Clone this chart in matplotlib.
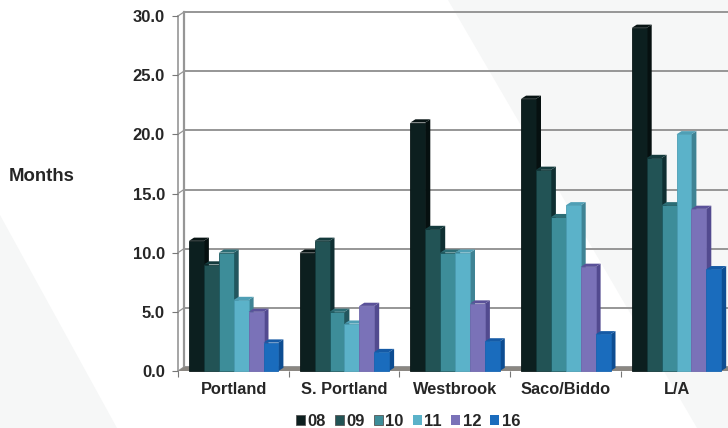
import matplotlib
matplotlib.use("Agg")
import matplotlib.pyplot as plt
from matplotlib.patches import Polygon, Rectangle, Patch

plt.rcParams['font.family'] = ['Liberation Sans', 'DejaVu Sans']

# Months by market and year
markets = ["Portland", "S. Portland", "Westbrook", "Saco/Biddo", "L/A"]
years = ["08", "09", "10", "11", "12", "16"]
y08 = [11, 10, 21, 23, 29]
y09 = [9, 11, 12, 17, 18]
y10 = [10, 5, 10, 13, 14]
y11 = [6, 4, 10, 14, 20]
y12 = [5, 5.5, 5.7, 8.8, 13.7]
y16 = [2.4, 1.6, 2.5, 3.1, 8.6]
series = [y08, y09, y10, y11, y12, y16]
y_ticks = [0, 5, 10, 15, 20, 25, 30]

front = ["#0c1f1f", "#225355", "#3d8d99", "#5bb2c9", "#7a72b8", "#1a6cbd"]
side = ["#061010", "#0f2f32", "#23565e", "#3f8394", "#524a8f", "#0d4d92"]
top = ["#081414", "#143b3d", "#2c6d75", "#4f9fb5", "#5a5199", "#155aa5"]
edges = ["#0a1818", "#12393b", "#1f5c63", "#4d9fb5", "#7068ad", "#1765b2"]
text_color = "#262626"
grid_color = "#969696"

W, H = 728, 428
fig = plt.figure(figsize=(W / 100, H / 100), dpi=100, facecolor="white")

# Faint diagonal panels behind the chart
bg = fig.add_axes([0, 0, 1, 1], zorder=0)
bg.set_xlim(0, W)
bg.set_ylim(H, 0)
bg.axis("off")
panel = "#f6f7f7"
bg.add_patch(Polygon([(448, 0), (W, 0), (W, H), (697, H)], fc=panel, ec="none"))
bg.add_patch(Polygon([(0, 215), (117, H), (0, H)], fc=panel, ec="none"))

# Front plane of the pseudo-3D chart: 110.7 px per market, 11.83 px per month
x0, y0, y30 = 178, 371, 16
group_px = 110.7
ax = fig.add_axes([x0 / W, (H - y0) / H, (W - x0) / W, (y0 - y30) / H], zorder=1)
ax.patch.set_alpha(0)
ax.set_xlim(0, (W - x0) / group_px)
ax.set_ylim(0, 30)
px_x = 1 / group_px
px_y = 30 / (y0 - y30)

wall_dx, wall_dy = 6 * px_x, 4 * px_y
bar_dx, bar_dy = 5 * px_x, 3.2 * px_y
xmax = ax.get_xlim()[1]

# Back wall gridlines, side wall and floor
for v in y_ticks:
    ax.plot([wall_dx, xmax], [v + wall_dy] * 2, color=grid_color, lw=1.4,
            solid_capstyle="butt", clip_on=False, zorder=1)
    ax.plot([0, wall_dx], [v, v + wall_dy], color=grid_color, lw=0.9,
            clip_on=False, zorder=1)
ax.plot([wall_dx, wall_dx], [0 + wall_dy, 30 + wall_dy], color=grid_color, lw=1.6,
        clip_on=False, zorder=1)
ax.plot([0, 0], [0, 30], color=grid_color, lw=1.2, clip_on=False, zorder=1)
ax.add_patch(Polygon([(0, 0), (xmax, 0), (xmax, wall_dy), (wall_dx, wall_dy)],
                     fc="#8b8782", ec="none", zorder=1, clip_on=False))

# Bars are painted left to right so each one covers its neighbour's side face
bar_w = 14.9 * px_x
start = 11 * px_x
for g in range(len(markets)):
    for s, values in enumerate(series):
        v = values[g]
        x = g + start + s * bar_w
        ax.add_patch(Polygon([(x + bar_w, 0), (x + bar_w + bar_dx, bar_dy),
                              (x + bar_w + bar_dx, v + bar_dy), (x + bar_w, v)],
                             fc=side[s], ec="none", zorder=3 + s * 0.01 + g, clip_on=False))
        ax.add_patch(Polygon([(x, v), (x + bar_w, v), (x + bar_w + bar_dx, v + bar_dy),
                              (x + bar_dx, v + bar_dy)],
                             fc=top[s], ec="none", zorder=3 + s * 0.01 + g, clip_on=False))
        ax.add_patch(Rectangle((x, 0), bar_w, v, fc=front[s], ec=edges[s], lw=0.6,
                               zorder=3 + s * 0.01 + g, clip_on=False))

for spine in ax.spines.values():
    spine.set_visible(False)

ax.set_yticks(y_ticks)
ax.set_yticklabels([f"{v:.1f}" for v in y_ticks], fontsize=12, fontweight="bold",
                   color=text_color)
ax.tick_params(axis="y", length=4, width=0.8, color="#777777", pad=5.5)
ax.set_xticks(range(len(markets)))
ax.set_xticklabels([])
ax.tick_params(axis="x", length=4, width=0.8, color="#777777")
for g, name in enumerate(markets):
    ax.text(g + 0.505, -1.6, name, ha="center", va="center", fontsize=11.8,
            fontweight="bold", color=text_color, clip_on=False)

fig.text(9 / W, 1 - 177 / H, "Months", ha="left", va="center", fontsize=13.4,
         fontweight="bold", color=text_color)

handles = [Patch(fc=front[i], ec="#555555" if i < 3 else "none", lw=0.6, label=years[i])
           for i in range(len(years))]
legend = fig.legend(handles=handles, ncol=6, frameon=False, loc="center",
                    bbox_to_anchor=(408 / W, 1 - 421 / H),
                    handlelength=0.54, handleheight=0.54, handletextpad=0.14,
                    columnspacing=0.56, borderpad=0, borderaxespad=0,
                    prop={"weight": "bold", "size": 12})
for t in legend.get_texts():
    t.set_color(text_color)

fig.savefig("out.png", dpi=100)
